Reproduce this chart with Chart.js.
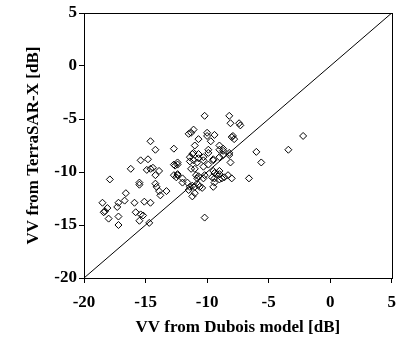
<!DOCTYPE html>
<html>
<head>
<meta charset="utf-8">
<script src="https://cdn.jsdelivr.net/npm/chart.js@4/dist/chart.umd.min.js"></script>
<style>
  html, body { margin: 0; padding: 0; background: #fff; }
  #wrap { width: 405px; height: 346px; }
</style>
</head>
<body>
<div id="wrap"><canvas id="scatterChart" width="405" height="346"></canvas></div>
<script>
// VV backscatter, Dubois model (x) vs TerraSAR-X (y), dB
const duboisVV = [-17.9,-18.5,-18.1,-18.3,-18.4,-18.0,-17.3,-17.2,-16.7,-16.6,-17.2,-17.2,-16.2,-15.9,-15.8,-15.4,-15.2,-15.5,-15.5,-15.5,
  -15.1,-14.6,-14.7,-15.4,-14.8,-14.6,-14.2,-14.9,-14.6,-14.4,-13.9,-14.2,-14.2,-14.1,-13.9,-13.8,-13.3,-12.7,-12.4,-12.4,
  -12.6,-12.4,-12.4,-12.0,-11.6,-12.0,-11.5,-11.3,-11.1,-11.4,-11.1,-10.7,-10.8,-10.3,-10.2,-10.0,-10.0,-9.4,-10.7,-9.7,
  -11.0,-9.0,-8.7,-8.7,-9.0,-11.1,-9.9,-8.2,-8.1,-7.4,-7.3,-7.9,-7.8,-8.0,-6.0,-8.2,-8.2,-9.0,-8.7,-9.5,
  -5.6,-8.1,-11.3,-11.0,-10.3,-9.9,-9.5,-9.4,-9.0,-12.5,-10.9,-10.8,-10.7,-10.3,-10.2,-9.4,-9.0,-8.8,-8.6,-8.3,
  -8.0,-6.6,-11.4,-11.2,-11.0,-10.7,-10.4,-9.5,-9.4,-11.2,-11.0,-10.2,-2.2,-3.4,-11.4,-11.2,-10.3,-12.7,-9.6,-11.5,
  -10.6,-12.7,-9.9,-10.7,-9.5,-9.2,-9.0];
const terrasarVV = [-10.7,-12.9,-13.4,-13.7,-13.8,-14.4,-13.3,-12.9,-12.7,-12.0,-14.2,-15.0,-9.7,-12.9,-13.8,-14.0,-14.1,-14.6,-11.0,-11.2,
  -12.8,-12.9,-14.8,-8.9,-8.8,-7.1,-7.9,-9.8,-9.7,-9.6,-9.9,-10.3,-11.1,-11.4,-11.8,-12.2,-11.8,-7.8,-9.1,-9.3,
  -9.4,-10.2,-10.3,-10.6,-11.0,-11.0,-6.4,-6.3,-6.0,-9.0,-8.9,-8.7,-9.1,-8.9,-4.7,-6.3,-6.6,-6.5,-6.9,-7.1,
  -7.5,-7.5,-7.8,-8.0,-7.9,-8.2,-8.2,-4.7,-5.4,-5.4,-5.6,-6.6,-6.9,-6.7,-8.1,-8.2,-8.4,-8.6,-8.4,-8.8,
  -9.1,-9.1,-9.7,-9.7,-9.5,-9.3,-9.9,-10.1,-9.9,-10.5,-10.3,-10.6,-10.4,-10.6,-10.3,-10.6,-10.7,-10.6,-10.5,-10.3,
  -10.6,-10.6,-11.4,-11.3,-11.4,-11.2,-11.5,-11.4,-11.0,-12.3,-12.0,-14.3,-6.6,-7.9,-8.6,-8.3,-8.6,-9.3,-10.5,-11.7,
  -11.4,-10.3,-7.9,-8.3,-8.9,-10.2,-10.2];

// 1:1 line
const lineX = [-20, 5];
const lineY = [-20, 5];

const axisMin = -20;
const axisMax = 5;
const axisStep = 5;

const pts = duboisVV.map((x, i) => ({ x: x, y: terrasarVV[i] }));
const linePts = lineX.map((x, i) => ({ x: x, y: lineY[i] }));

const tickFont = { family: 'Liberation Serif', size: 17, weight: 'bold' };
const titleFont = { family: 'Liberation Serif', size: 17, weight: 'bold' };

// closes the box on top and right
const frame = {
  id: 'frame',
  afterDraw(chart) {
    const { ctx, chartArea: a } = chart;
    ctx.save();
    ctx.strokeStyle = '#000';
    ctx.lineWidth = 1;
    ctx.strokeRect(Math.round(a.left) + 0.5, Math.round(a.top) + 0.5, Math.round(a.right - a.left), Math.round(a.bottom - a.top));
    ctx.restore();
  }
};

const ctx = document.getElementById('scatterChart').getContext('2d');
const chart = new Chart(ctx, {
  type: 'scatter',
  data: {
    datasets: [
      {
        data: pts,
        pointStyle: 'rectRot',
        pointRadius: 3.5,
        borderColor: '#000',
        backgroundColor: 'rgba(0,0,0,0)',
        borderWidth: 1
      },
      {
        data: linePts,
        showLine: true,
        pointRadius: 0,
        borderColor: '#000',
        borderWidth: 1
      }
    ]
  },
  options: {
    responsive: false,
    animation: false,
    layout: { padding: { top: 13, right: 13, left: 0, bottom: 0 } },
    plugins: { legend: { display: false }, tooltip: { enabled: false } },
    scales: {
      x: {
        min: axisMin, max: axisMax,
        ticks: { stepSize: axisStep, color: '#000', font: tickFont, padding: 9, maxRotation: 0 },
        grid: { drawOnChartArea: false, drawTicks: true, tickLength: 5, color: '#000' },
        border: { color: '#000', width: 1 },
        title: { display: true, text: 'VV from Dubois model [dB]', color: '#000', font: titleFont, padding: { top: 0, bottom: 8 } },
        afterFit: (s) => { s.height = 68; }
      },
      y: {
        min: axisMin, max: axisMax,
        ticks: { stepSize: axisStep, color: '#000', font: tickFont, padding: 2 },
        grid: { drawOnChartArea: false, drawTicks: true, tickLength: 5, color: '#000' },
        border: { color: '#000', width: 1 },
        title: { display: true, text: 'VV from TerraSAR-X [dB]', color: '#000', font: titleFont, padding: { top: 23, bottom: 0 } },
        afterFit: (s) => { s.width = 84; }
      }
    }
  },
  plugins: [frame]
});
</script>
</body>
</html>
